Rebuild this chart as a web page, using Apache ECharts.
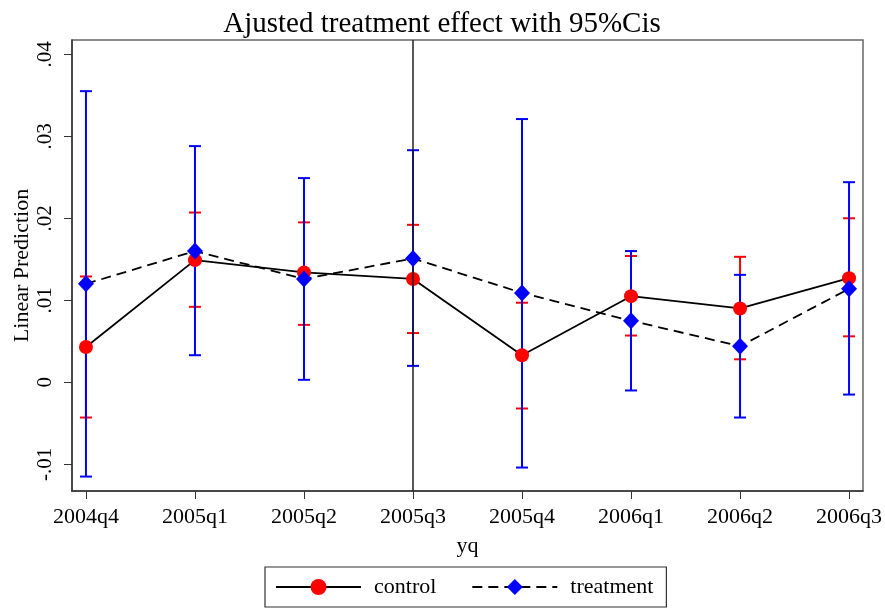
<!DOCTYPE html>
<html>
<head>
<meta charset="utf-8">
<style>
html,body{margin:0;padding:0;background:#fff;}
#main{width:885px;height:608px;}
</style>
</head>
<body>
<div id="main"></div>
<script src="https://cdn.jsdelivr.net/npm/echarts@6/dist/echarts.min.js"></script>
<script type="text/javascript">
// quarters on the x axis
var quarters = ['2004q4','2005q1','2005q2','2005q3','2005q4','2006q1','2006q2','2006q3'];
// control group: point estimate and 95% CI
var controlMean = [0.0043, 0.0149, 0.0134, 0.0126, 0.0033, 0.0105, 0.0090, 0.0127];
var controlLow  = [-0.0043, 0.0092, 0.0070, 0.0060, -0.0032, 0.0057, 0.0028, 0.0056];
var controlHigh = [0.0129, 0.0207, 0.0195, 0.0192, 0.0097, 0.0154, 0.0153, 0.0200];
// treatment group
var treatMean = [0.0120, 0.0160, 0.0126, 0.0151, 0.0109, 0.0075, 0.0044, 0.0114];
var treatLow  = [-0.0115, 0.0033, 0.0003, 0.0020, -0.0104, -0.0010, -0.0043, -0.0015];
var treatHigh = [0.0355, 0.0288, 0.0249, 0.0283, 0.0321, 0.0160, 0.0131, 0.0244];
var yTicks = [-0.01, 0, 0.01, 0.02, 0.03, 0.04];
var xTicks = [0, 1, 2, 3, 4, 5, 6, 7];

var font = '"Liberation Serif", "DejaVu Serif", serif';

function pairs(arr) {
    return arr.map(function (v, i) { return [i, v]; });
}
function ciData(lo, hi) {
    return lo.map(function (v, i) { return [i, v, hi[i]]; });
}
// 误差线：竖线加上下两个短横
function ciRender(color) {
    return function (params, api) {
        var x = api.value(0);
        var p1 = api.coord([x, api.value(1)]);
        var p2 = api.coord([x, api.value(2)]);
        var w = 6;
        var st = {stroke: color, lineWidth: 2};
        return {
            type: 'group',
            children: [
                {type: 'line', shape: {x1: p1[0], y1: p1[1], x2: p2[0], y2: p2[1]}, style: st},
                {type: 'line', shape: {x1: p1[0] - w, y1: p1[1], x2: p1[0] + w, y2: p1[1]}, style: st},
                {type: 'line', shape: {x1: p2[0] - w, y1: p2[1], x2: p2[0] + w, y2: p2[1]}, style: st}
            ]
        };
    };
}

var myChart = echarts.init(document.getElementById('main'));
var option = {
    backgroundColor: '#fff',
    animation: false,
    title: {
        text: 'Ajusted treatment effect with 95%Cis',
        left: 437,
        textAlign: 'center',
        top: 5,
        textStyle: {fontFamily: font, fontSize: 29, fontWeight: 'normal', color: '#000'}
    },
    grid: {
        left: 72, top: 40, width: 791, height: 451,
        outerBoundsMode: 'none',
        containLabel: false,
        show: true, borderColor: '#666', borderWidth: 1.5
    },
    legend: {
        bottom: 1,
        left: 265,
        data: ['control', 'treatment'],
        itemWidth: 85,
        itemHeight: 20,
        itemGap: 35,
        borderColor: '#333',
        borderWidth: 1.2,
        padding: [9, 13, 9, 10],
        textStyle: {fontFamily: font, fontSize: 22, color: '#000', padding: [0, 0, 0, 8]}
    },
    xAxis: {
        type: 'value',
        min: -0.128,
        max: 7.128,
        name: 'yq',
        nameLocation: 'middle',
        nameGap: 44,
        nameTextStyle: {fontFamily: font, fontSize: 22, color: '#000'},
        splitLine: {show: false},
        axisLine: {onZero: false, lineStyle: {color: '#333', width: 1.5}},
        axisTick: {customValues: xTicks, length: 8, lineStyle: {color: '#333'}},
        axisLabel: {
            customValues: xTicks,
            margin: 15,
            fontFamily: font, fontSize: 22, color: '#000',
            formatter: function (v) { return quarters[Math.round(v)]; }
        }
    },
    yAxis: {
        type: 'value',
        min: -0.01326,
        max: 0.04174,
        name: 'Linear Prediction',
        nameLocation: 'middle',
        nameRotate: 90,
        nameGap: 39,
        nameMoveOverlap: false,
        nameTextStyle: {fontFamily: font, fontSize: 22, color: '#000'},
        splitLine: {show: false},
        axisLine: {show: true, onZero: false, lineStyle: {color: '#333', width: 1.5}},
        axisTick: {customValues: yTicks, length: 8, lineStyle: {color: '#333'}},
        axisLabel: {
            customValues: yTicks,
            rotate: 90,
            margin: 16,
            fontFamily: font, fontSize: 21, color: '#000',
            formatter: function (v) {
                if (Math.abs(v) < 1e-9) return '0';
                var s = (Math.round(v * 100) / 100).toString();
                return s.replace('0.', '.');
            }
        }
    },
    series: [
        {
            name: 'controlCI',
            type: 'custom',
            renderItem: ciRender('#ff0000'),
            data: ciData(controlLow, controlHigh),
            z: 2,
            markLine: {
                silent: true,
                symbol: 'none',
                label: {show: false},
                lineStyle: {color: '#222', type: 'solid', width: 1.5},
                data: [{xAxis: 3}]
            }
        },
        {
            name: 'treatCI',
            type: 'custom',
            renderItem: ciRender('#0000ff'),
            data: ciData(treatLow, treatHigh),
            z: 3
        },
        {
            name: 'control',
            type: 'line',
            data: pairs(controlMean),
            symbol: 'circle',
            symbolSize: 14,
            itemStyle: {color: '#ff0000'},
            lineStyle: {color: '#000', width: 1.8, type: 'solid'},
            z: 4
        },
        {
            name: 'treatment',
            type: 'line',
            data: pairs(treatMean),
            symbol: 'diamond',
            symbolSize: [16, 17],
            itemStyle: {color: '#0000ff'},
            lineStyle: {color: '#000', width: 1.8, type: [10, 6]},
            z: 5
        }
    ]
};
myChart.setOption(option);
</script>
</body>
</html>
